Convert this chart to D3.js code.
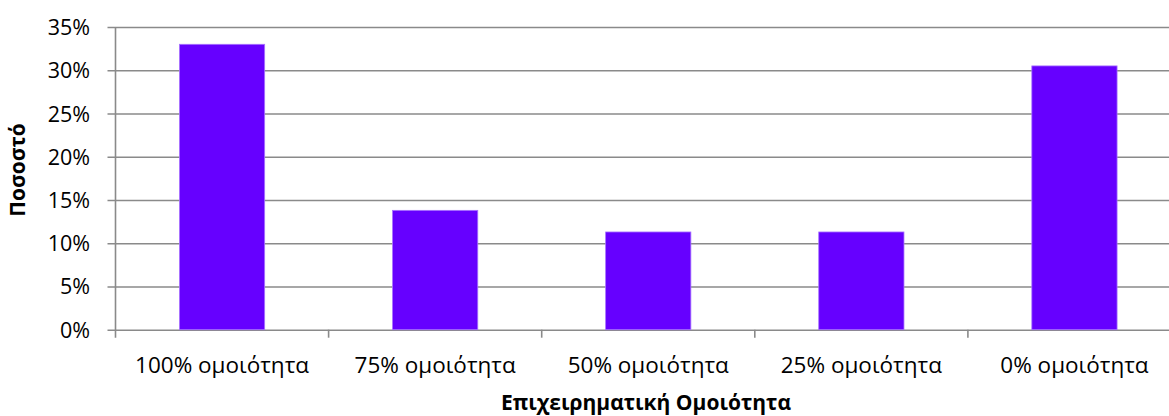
<!DOCTYPE html>
<html>
<head>
<meta charset="utf-8">
<script src="https://cdn.jsdelivr.net/npm/d3@7"></script>
<style>
  html, body { margin: 0; padding: 0; background: #fff; }
  svg { display: block; }
  text { font-family: "Open Sans", "Noto Sans", sans-serif; fill: #000; }
</style>
</head>
<body>
<svg id="chart" width="1169" height="416"></svg>
<script>
// Share of firms by business similarity level
const categories = ["100% ομοιότητα", "75% ομοιότητα", "50% ομοιότητα", "25% ομοιότητα", "0% ομοιότητα"];
const shares = [0.33, 0.138, 0.113, 0.113, 0.305];
const yTicks = [0, 0.05, 0.10, 0.15, 0.20, 0.25, 0.30, 0.35];
const xTitle = "Επιχειρηματική Ομοιότητα";
const yTitle = "Ποσοστό";

const svg = d3.select("#chart");
const plot = { left: 115.5, right: 1181, top: 27, bottom: 329.7 };
const gridColor = "#8a8a8a";

const x = d3.scaleBand()
  .domain(categories)
  .range([plot.left, plot.right])
  .paddingInner(0.6)
  .paddingOuter(0.3);

const y = d3.scaleLinear()
  .domain([0, 0.35])
  .range([plot.bottom, plot.top]);

// Horizontal gridlines with short outer ticks on the left
const yAxis = d3.axisLeft(y)
  .tickValues(yTicks)
  .tickFormat(d3.format(".0%"))
  .tickSize(-(plot.right - plot.left))
  .tickPadding(25.5);

const gy = svg.append("g")
  .attr("transform", `translate(${plot.left},0)`)
  .call(yAxis);
gy.select(".domain").remove();
gy.selectAll(".tick line")
  .attr("x1", -8)
  .attr("stroke", gridColor)
  .attr("stroke-width", 1.6);
gy.selectAll(".tick text")
  .attr("font-size", 21.5)
  .attr("dy", "0.35em");

// Bars
svg.append("g")
  .selectAll("rect")
  .data(categories)
  .join("rect")
  .attr("x", d => x(d))
  .attr("width", x.bandwidth())
  .attr("y", (d, i) => y(shares[i]))
  .attr("height", (d, i) => y(0) - y(shares[i]))
  .attr("fill", "#6600ff")
  .attr("stroke", "#a873ff")
  .attr("stroke-width", 0.8);

// Vertical axis line
svg.append("line")
  .attr("x1", plot.left).attr("x2", plot.left)
  .attr("y1", plot.top).attr("y2", plot.bottom + 8)
  .attr("stroke", gridColor)
  .attr("stroke-width", 1.6);

// Category axis: boundary ticks between bands plus labels
const step = x.step();
const boundaries = d3.range(1, categories.length).map(i => plot.left + i * step);
const gx = svg.append("g");
gx.selectAll("line.tick")
  .data(boundaries)
  .join("line")
  .attr("class", "tick")
  .attr("x1", d => d).attr("x2", d => d)
  .attr("y1", plot.bottom).attr("y2", plot.bottom + 8)
  .attr("stroke", gridColor)
  .attr("stroke-width", 1.6);
gx.selectAll("text")
  .data(categories)
  .join("text")
  .attr("x", d => x(d) + x.bandwidth() / 2)
  .attr("y", 373)
  .attr("text-anchor", "middle")
  .attr("font-size", 22.5)
  .text(d => d);

// Axis titles
svg.append("text")
  .attr("x", 646)
  .attr("y", 410)
  .attr("text-anchor", "middle")
  .attr("font-size", 21)
  .attr("font-weight", "bold")
  .text(xTitle);

svg.append("text")
  .attr("transform", "translate(25,170) rotate(-90)")
  .attr("text-anchor", "middle")
  .attr("font-size", 21)
  .attr("font-weight", "bold")
  .text(yTitle);
</script>
</body>
</html>
